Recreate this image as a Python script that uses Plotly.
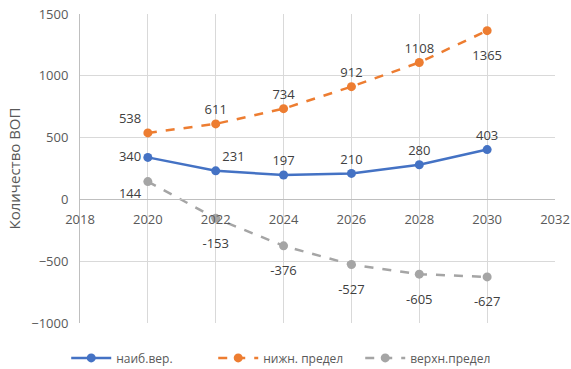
import plotly.graph_objects as go

years = [2020, 2022, 2024, 2026, 2028, 2030]
likely = [340, 231, 197, 210, 280, 403]
lower_lim = [538, 611, 734, 912, 1108, 1365]
upper_lim = [144, -153, -376, -527, -605, -627]

names = ["наиб.вер.", "нижн. предел", "верхн.предел"]
colors = ["#4472C4", "#ED7D31", "#A5A5A5"]

pos_likely = ["middle left", "top right", "top center", "top center", "top center", "top center"]
pos_lower = ["top left", "top center", "top center", "top center", "top center", "bottom center"]
pos_upper = ["bottom left", "bottom center", "bottom center", "bottom center", "bottom center", "bottom center"]

FONT = "'Open Sans', sans-serif"
TXT = "#595959"


def label_sizes(positions):
    # invisible marker sizes that set the label offset from each point
    return [30 if (p.startswith("bottom") and i > 0) else 9 for i, p in enumerate(positions)]


fig = go.Figure()
series = [
    (likely, names[0], colors[0], "solid", pos_likely),
    (lower_lim, names[1], colors[1], "dash", pos_lower),
    (upper_lim, names[2], colors[2], "dash", pos_upper),
]
for vals, name, col, dash, pos in series:
    fig.add_trace(go.Scatter(
        x=years, y=vals, name=name,
        mode="lines+markers",
        line=dict(color=col, width=2.5, dash=dash),
        marker=dict(color=col, size=9),
        cliponaxis=False,
    ))
for vals, name, col, dash, pos in series:
    fig.add_trace(go.Scatter(
        x=years, y=vals, name=name, showlegend=False,
        mode="markers+text",
        text=[str(v) for v in vals],
        textposition=pos,
        textfont=dict(family=FONT, size=13, color="#404040"),
        marker=dict(color=col, size=label_sizes(pos), opacity=0),
        cliponaxis=False, hoverinfo="skip",
    ))

fig.update_layout(
    width=571, height=369,
    margin=dict(l=80, r=16, t=14, b=46, autoexpand=False),
    paper_bgcolor="white", plot_bgcolor="white",
    font=dict(family=FONT, size=13, color=TXT),
    showlegend=True,
    legend=dict(orientation="h", x=-0.029, xanchor="left", y=-0.113, yanchor="middle",
                font=dict(family=FONT, size=12, color=TXT), itemwidth=40,
                entrywidth=92),
    xaxis=dict(range=[2018, 2032], dtick=2, tick0=2018,
               showgrid=True, gridcolor="#D9D9D9", gridwidth=1,
               showline=True, linecolor="#BFBFBF", linewidth=1,
               anchor="free", position=0.4, zeroline=False,
               ticks="", ticklabelstandoff=8,
               tickfont=dict(family=FONT, size=13, color=TXT)),
    yaxis=dict(range=[-1000, 1500], dtick=500, domain=[0, 1],
               showgrid=True, gridcolor="#D9D9D9", gridwidth=1,
               showline=True, linecolor="#BFBFBF", linewidth=1,
               zeroline=False, ticks="", ticklabelstandoff=8,
               title=dict(text="Количество ВОП", font=dict(family=FONT, size=15, color=TXT), standoff=6),
               tickfont=dict(family=FONT, size=13, color=TXT)),
)

fig.write_html("out.html")
